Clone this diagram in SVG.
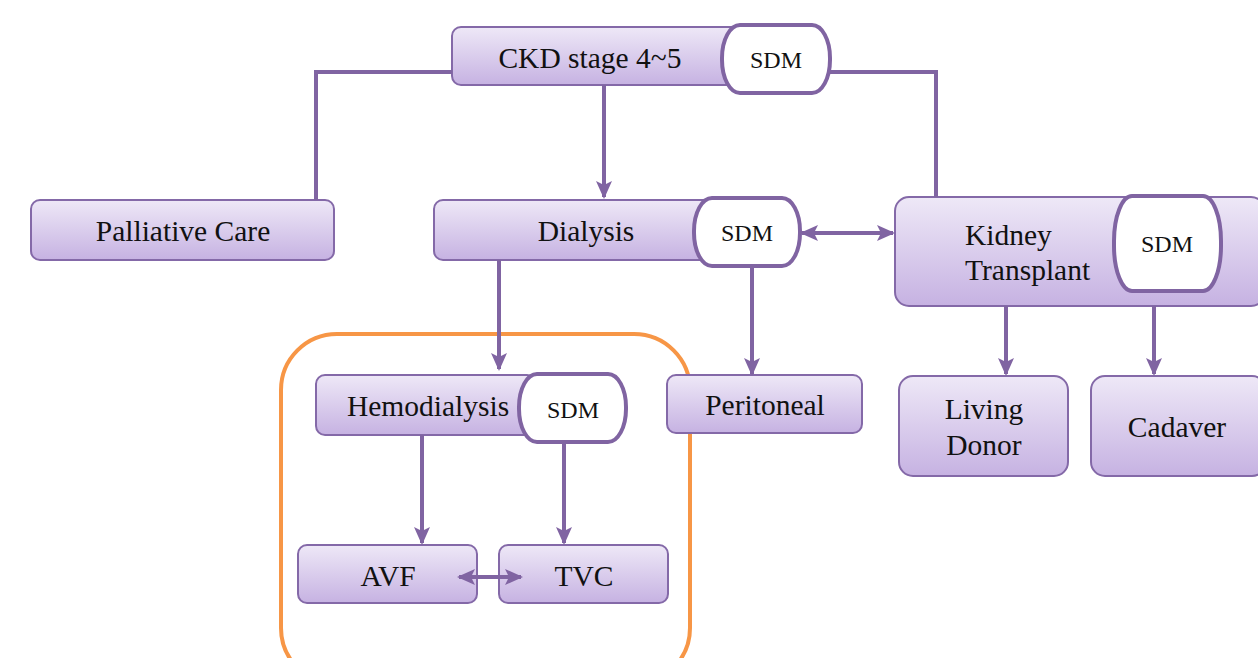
<svg xmlns="http://www.w3.org/2000/svg" width="1258" height="658" viewBox="0 0 1258 658">
<style>
.box{fill:url(#g);stroke:#8469A8;stroke-width:2}
.pill{fill:#fff;stroke:#8064A2;stroke-width:4}
.t{font-family:'Liberation Serif','DejaVu Serif',Times,serif;font-size:29.5px;fill:#111;text-anchor:middle}
.s{font-family:'Liberation Serif','DejaVu Serif',Times,serif;font-size:24px;fill:#111;text-anchor:middle}
.c{fill:none;stroke:#8064A2;stroke-width:4}
</style>
<defs>
<linearGradient id="g" x1="0" y1="0" x2="0" y2="1">
<stop offset="0" stop-color="#EEE8F7"/>
<stop offset="1" stop-color="#C6B2E2"/>
</linearGradient>
<marker id="a" markerUnits="userSpaceOnUse" markerWidth="18" markerHeight="18" viewBox="0 0 18 18" refX="16" refY="9" orient="auto-start-reverse">
<path d="M0,1 L18,9 L0,17 L4,9 z" fill="#8064A2"/>
</marker>
</defs>
<rect width="1258" height="658" fill="#fff"/>
<g id="group-hd">
<rect x="281" y="334" width="409" height="350" rx="56" fill="none" stroke="#F79646" stroke-width="4"/>
</g>
<g id="ckd">
<rect class="box" x="452" y="27" width="290" height="58" rx="9"/>
<text class="t" x="590" y="68">CKD stage 4~5</text>
<rect class="pill" x="722" y="25" width="108" height="68" rx="18" ry="33"/>
<text class="s" x="776" y="68">SDM</text>
</g>
<g id="palliative">
<rect class="box" x="31" y="200" width="303" height="60" rx="9"/>
<text class="t" x="183" y="241">Palliative Care</text>
</g>
<g id="dialysis">
<rect class="box" x="434" y="200" width="280" height="60" rx="9"/>
<text class="t" x="586" y="241">Dialysis</text>
<rect class="pill" x="694" y="198" width="106" height="68" rx="18" ry="33"/>
<text class="s" x="747" y="241">SDM</text>
</g>
<g id="kidney">
<rect class="box" x="895" y="197" width="370" height="109" rx="14"/>
<text class="t" x="965" y="245" style="text-anchor:start">Kidney</text>
<text class="t" x="965" y="280" style="text-anchor:start">Transplant</text>
<rect class="pill" x="1114" y="196" width="107" height="95" rx="18" ry="45"/>
<text class="s" x="1167" y="252">SDM</text>
</g>
<g id="hemodialysis">
<rect class="box" x="316" y="375" width="220" height="60" rx="9"/>
<text class="t" x="428" y="416">Hemodialysis</text>
<rect class="pill" x="519" y="374" width="107" height="68" rx="18" ry="33"/>
<text class="s" x="573" y="418">SDM</text>
</g>
<g id="peritoneal">
<rect class="box" x="667" y="375" width="195" height="58" rx="9"/>
<text class="t" x="765" y="415">Peritoneal</text>
</g>
<g id="living">
<rect class="box" x="899" y="376" width="169" height="100" rx="14"/>
<text class="t" x="984" y="419">Living</text>
<text class="t" x="984" y="455">Donor</text>
</g>
<g id="cadaver">
<rect class="box" x="1091" y="376" width="175" height="100" rx="14"/>
<text class="t" x="1177" y="437">Cadaver</text>
</g>
<g id="avf">
<rect class="box" x="298" y="545" width="179" height="58" rx="9"/>
<text class="t" x="388" y="586">AVF</text>
</g>
<g id="tvc">
<rect class="box" x="499" y="545" width="169" height="58" rx="9"/>
<text class="t" x="584" y="586">TVC</text>
</g>
<g id="connectors">
<path class="c" d="M452,72 H316 V200"/>
<path class="c" d="M830,72 H936 V197"/>
<path class="c" d="M604,85 V197" marker-end="url(#a)"/>
<path class="c" d="M802,233 H893" marker-start="url(#a)" marker-end="url(#a)"/>
<path class="c" d="M499,260 V369" marker-end="url(#a)"/>
<path class="c" d="M752,266 V374" marker-end="url(#a)"/>
<path class="c" d="M1006,306 V374" marker-end="url(#a)"/>
<path class="c" d="M1154,306 V374" marker-end="url(#a)"/>
<path class="c" d="M422,435 V543" marker-end="url(#a)"/>
<path class="c" d="M564,442 V543" marker-end="url(#a)"/>
<path class="c" d="M459,577 H521" marker-start="url(#a)" marker-end="url(#a)"/>
</g>
</svg>
